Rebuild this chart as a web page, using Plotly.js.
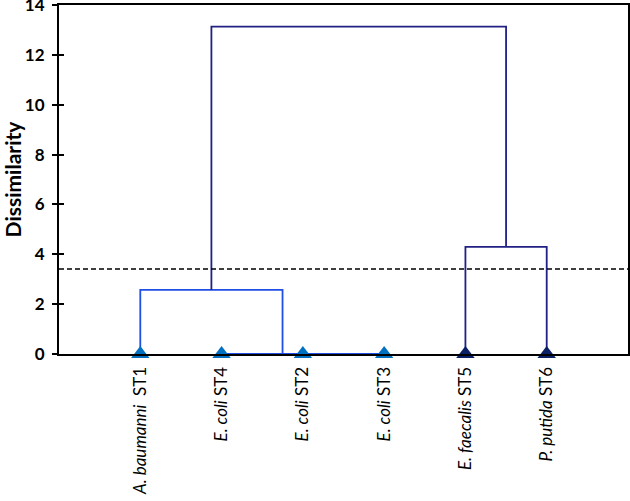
<!DOCTYPE html>
<html><head><meta charset="utf-8">
<script src="https://cdn.plot.ly/plotly-3.0.1.min.js"></script>
<style>html,body{margin:0;padding:0;background:#fff}#c{width:630px;height:501px}</style>
</head><body><div id="c"></div>
<script>
// Leaves (in dendrogram order)
const labels = ["<i>A. baumanni</i>  ST1","<i>E. coli</i> ST4","<i>E. coli</i> ST2","<i>E. coli</i> ST3","<i>E. faecalis</i> ST5","<i>P. putida</i> ST6"];
const leafGroup = [0,0,0,0,1,1];
// Merges: left child, right child (leaf index or "n<k>" node), height, colour group
const mergeLeft  = [2, 1, 0, 4, "n2"];
const mergeRight = [3, "n0", "n1", 5, "n3"];
const mergeHeight = [0, 0, 2.57, 4.3, 13.13];
const mergeGroup  = [0, 0, 0, 1, 1];
const threshold = 3.41;
const yTicks = [0,2,4,6,8,10,12,14];

const lineColors = ["#1f4fe6","#202085"];
const markerColors = ["#0070c0","#0a1f66"];

const nodePos = [];
function pos(c){ if (typeof c === "number") return {x:c, y:0}; return nodePos[+c.slice(1)]; }
const traces = [];
for (let k=0;k<mergeHeight.length;k++){
  const a = pos(mergeLeft[k]), b = pos(mergeRight[k]), h = mergeHeight[k];
  nodePos.push({x:(a.x+b.x)/2, y:h});
  traces.push({x:[a.x,a.x,b.x,b.x], y:[a.y,h,h,b.y], mode:"lines", type:"scatter",
    line:{color:lineColors[mergeGroup[k]], width:1.8}, hoverinfo:"skip", showlegend:false, cliponaxis:false});
}
traces.push({x:[-1,6], y:[threshold,threshold], mode:"lines", type:"scatter",
  line:{color:"#000", width:1.4, dash:"5px,3px"}, showlegend:false, hoverinfo:"skip"});
traces.push({x:labels.map((_,i)=>i), y:labels.map(()=>0), mode:"markers", type:"scatter",
  marker:{symbol:"triangle-up", size:16, color:leafGroup.map(g=>markerColors[g])},
  cliponaxis:false, showlegend:false, hoverinfo:"skip"});

const layout = {
  width:630, height:501,
  margin:{l:59, r:2, t:5, b:147},
  paper_bgcolor:"#fff", plot_bgcolor:"#fff",
  font:{family:"Lato, 'Open Sans', sans-serif", color:"#000"},
  xaxis:{range:[-1,6], tickmode:"array", tickvals:labels.map((_,i)=>i), ticktext:labels,
    tickangle:-90, tickfont:{size:17, family:"Lato"}, showgrid:false, zeroline:false,
    showline:true, linecolor:"#000", linewidth:2, mirror:true, ticks:"", ticklabelstandoff:4},
  yaxis:{range:[0,14], tickmode:"array", tickvals:yTicks, ticktext:yTicks.map(String),
    showgrid:false, zeroline:false, ticklabeloverflow:"allow",
    showline:true, linecolor:"#000", linewidth:2, mirror:true,
    ticks:"outside", ticklen:5, tickwidth:2, tickcolor:"#000", ticklabelstandoff:4,
    tickfont:{size:17, family:"Lato", weight:"bold"},
    title:{text:"<b>Dissimilarity</b>", font:{size:21, family:"Lato"}, standoff:14}},
  yaxis2:{range:[0,14], tickmode:"array", tickvals:yTicks, overlaying:"y", side:"left", showgrid:false,
    zeroline:false, showline:false, ticks:"inside", ticklen:5, tickwidth:2, tickcolor:"#000",
    showticklabels:false}
};
traces.push({x:[null], y:[null], yaxis:"y2", showlegend:false, hoverinfo:"skip", type:"scatter"});
Plotly.newPlot("c", traces, layout, {displayModeBar:false, staticPlot:true});
</script></body></html>
